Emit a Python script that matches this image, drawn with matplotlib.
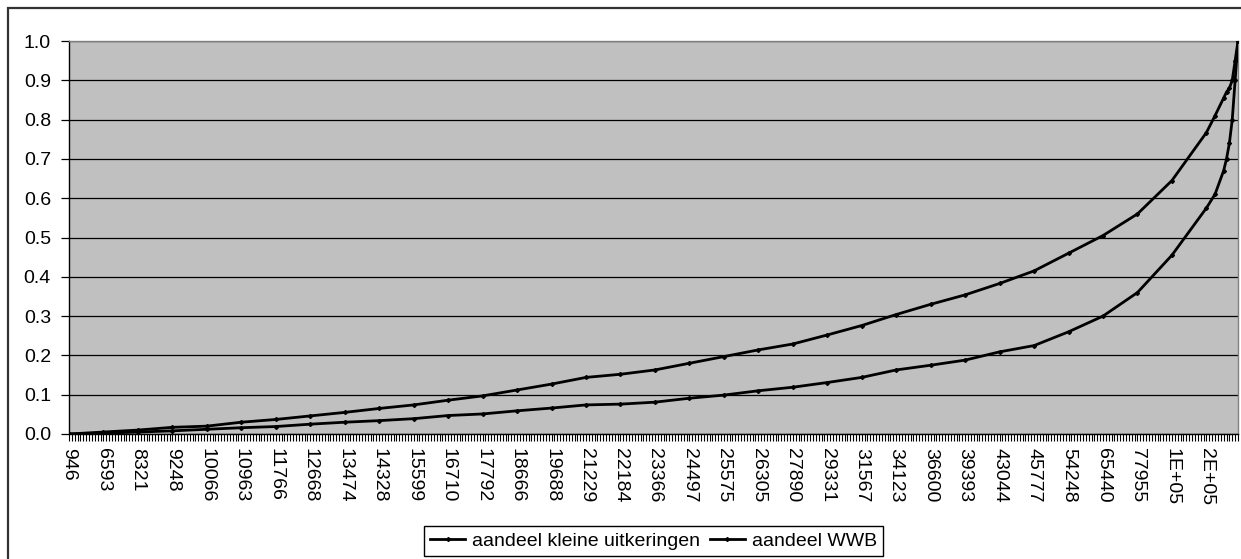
import matplotlib

matplotlib.use("Agg")

import matplotlib.pyplot as plt
from matplotlib.patches import Rectangle
from matplotlib.ticker import FixedLocator, FormatStrFormatter

plt.rcParams["font.family"] = ["Liberation Sans", "DejaVu Sans"]

# Category axis: 408 categories, a label on every 12th one.
N_CATEGORIES = 408
LABEL_STEP = 12
x_labels = [
    "946", "6593", "8321", "9248", "10066", "10963", "11766", "12668",
    "13474", "14328", "15599", "16710", "17792", "18666", "19688", "21229",
    "22184", "23366", "24497", "25575", "26305", "27890", "29331", "31567",
    "34123", "36600", "39393", "43044", "45777", "54248", "65440", "77955",
    "1E+05", "2E+05",
]

sample_idx = [
    0, 12, 24, 36, 48, 60, 72, 84, 96, 108, 120, 132, 144, 156, 168, 180,
    192, 204, 216, 228, 240, 252, 264, 276, 288, 300, 312, 324, 336, 348,
    360, 372, 384, 396, 399, 402, 403, 404, 405, 406, 407,
]

kleine_uitkeringen = [
    0.000, 0.005, 0.010, 0.017, 0.020, 0.030, 0.037, 0.046, 0.055, 0.065,
    0.074, 0.086, 0.097, 0.112, 0.127, 0.144, 0.152, 0.163, 0.180, 0.197,
    0.214, 0.229, 0.252, 0.276, 0.304, 0.330, 0.354, 0.383, 0.415, 0.460,
    0.505, 0.560, 0.645, 0.767, 0.810, 0.855, 0.870, 0.880, 0.900, 0.950,
    1.000,
]

wwb = [
    0.000, 0.002, 0.005, 0.008, 0.012, 0.016, 0.019, 0.025, 0.030, 0.034,
    0.039, 0.047, 0.051, 0.059, 0.066, 0.074, 0.076, 0.081, 0.091, 0.099,
    0.110, 0.119, 0.131, 0.144, 0.163, 0.175, 0.188, 0.209, 0.225, 0.260,
    0.300, 0.360, 0.455, 0.575, 0.610, 0.670, 0.700, 0.740, 0.800, 0.900,
    1.000,
]

series_names = ["aandeel kleine uitkeringen", "aandeel WWB"]

W, H = 1241, 559
FONT_SIZE = 14


def draw_chart() -> None:
    fig = plt.figure(figsize=(W / 100, H / 100), dpi=100)
    fig.patch.set_facecolor("white")

    # chart area border (only left and top edges fall inside the image)
    fig.patches.append(
        Rectangle(
            (8 / W, -0.5), 2, 1.5 - 8 / H,
            transform=fig.transFigure, fill=False,
            edgecolor="#333333", linewidth=1.6,
        )
    )

    ax = fig.add_axes([69 / W, 1 - 434 / H, (1238 - 69) / W, (434 - 41) / H])
    ax.set_facecolor("#c0c0c0")

    for values, name in zip([kleine_uitkeringen, wwb], series_names):
        ax.plot(
            sample_idx, values, color="black", linewidth=2.0,
            marker="D", markersize=2.0, label=name, zorder=3,
        )

    ax.set_xlim(0, N_CATEGORIES - 1)
    ax.set_ylim(0, 1)

    ax.set_yticks([i / 10 for i in range(11)])
    ax.yaxis.set_major_formatter(FormatStrFormatter("%.1f"))
    ax.grid(axis="y", color="black", linewidth=0.9)
    ax.set_axisbelow(True)

    label_pos = list(range(0, N_CATEGORIES, LABEL_STEP))[: len(x_labels)]
    ax.set_xticks(label_pos)
    ax.set_xticklabels(x_labels, rotation=-90, va="top", ha="center")
    ax.xaxis.set_minor_locator(FixedLocator(list(range(N_CATEGORIES))))

    ax.tick_params(axis="both", which="both", direction="out", color="black",
                   labelsize=FONT_SIZE)
    ax.tick_params(axis="x", which="both", length=5, width=0.8, pad=5)
    ax.tick_params(axis="y", length=6, width=0.9, pad=7)

    for side in ["left", "bottom"]:
        ax.spines[side].set_color("black")
        ax.spines[side].set_linewidth(1.0)
    for side in ["top", "right"]:
        ax.spines[side].set_color("#808080")
        ax.spines[side].set_linewidth(1.0)

    leg = ax.legend(
        loc="center",
        bbox_to_anchor=(653.5 / W, 1 - 541 / H),
        bbox_transform=fig.transFigure,
        ncol=2,
        fontsize=FONT_SIZE,
        frameon=True,
        fancybox=False,
        edgecolor="black",
        framealpha=1,
        borderpad=0.3,
        handlelength=1.8,
        handletextpad=0.35,
        columnspacing=0.5,
        borderaxespad=0,
    )
    leg.get_frame().set_linewidth(1.0)

    fig.savefig("out.png", dpi=100)
    plt.close(fig)


if __name__ == "__main__":
    draw_chart()
